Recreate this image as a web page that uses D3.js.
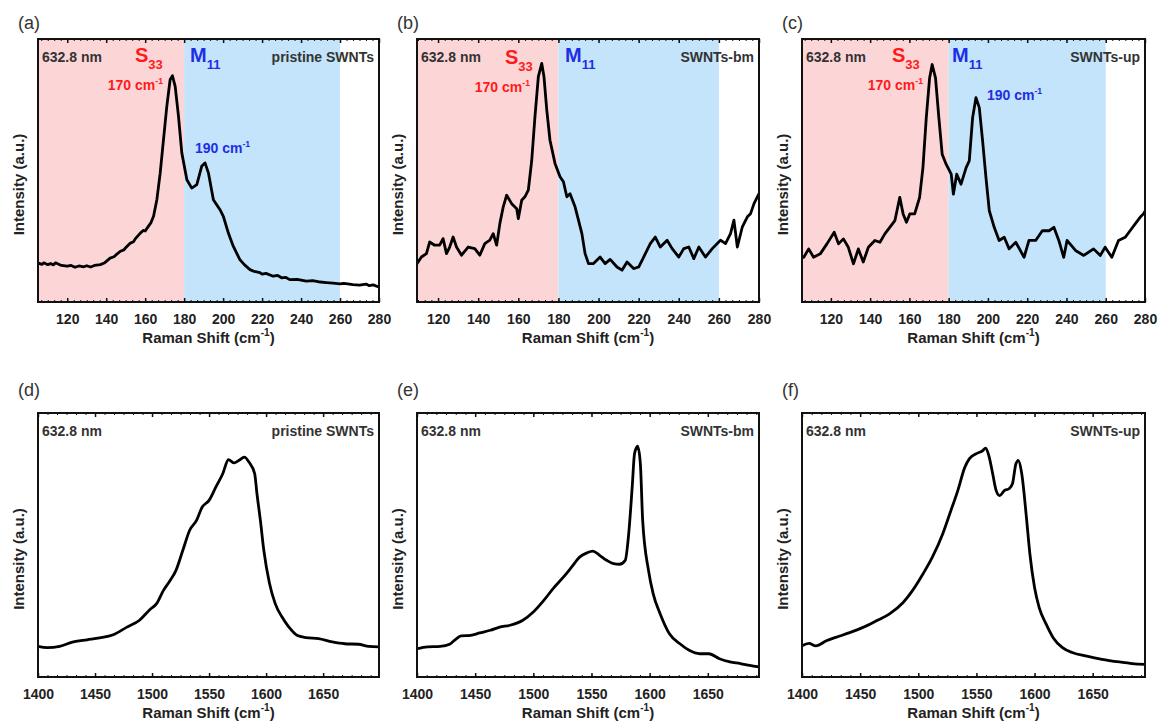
<!DOCTYPE html>
<html>
<head>
<meta charset="utf-8">
<script src="https://cdn.jsdelivr.net/npm/d3@7"></script>
<style>
  html, body { margin: 0; padding: 0; background: #fff; }
  svg { display: block; font-family: "Liberation Sans", Arial, sans-serif; }
  .tick-label { font-size: 14px; font-weight: bold; fill: #222; }
  .axis-title { font-size: 15px; font-weight: bold; fill: #222; }
  .panel-tag { font-size: 18px; fill: #333; }
  .note { font-size: 14px; font-weight: bold; fill: #333; }
</style>
</head>
<body>
<div id="chart"></div>
<script>
// RBM region spectra (Raman shift cm-1, intensity a.u. 0-100)
const rbmPristine = [
  [105.2, 14.8], [107, 14.3], [108, 14.9], [110, 14.2], [111.5, 14.6], [113, 14.1], [114, 14.9],
  [117, 13.9], [120, 13.6], [122, 13.9], [124, 13.2], [126, 13.7], [128.5, 13.4], [130, 13.8],
  [132, 13.3], [134, 13.9], [137, 14.2], [139, 14.8], [142, 16.7], [144, 17.2], [145, 17.9],
  [147.3, 19.3], [149, 19.8], [150, 20.6], [152.4, 22.4], [154, 22.9], [155, 24.1], [157.5, 26.2],
  [159, 27.2], [160, 27.0], [161, 28.1], [163, 30.2], [164.3, 32.6], [166, 38.9],
  [167.7, 49], [169.4, 61.7], [171.1, 74.4], [172.8, 84.5], [174, 86], [175.4, 82], [177.1, 70.6],
  [178.8, 56.7], [181.4, 46.5], [183.9, 43.3], [186.5, 44.6], [189, 51.6], [190.7, 52.9],
  [192.5, 49], [195, 38.9], [198.4, 35.1], [200.1, 32.6], [202.7, 26.2], [205.2, 21.2],
  [208.6, 16.1], [211, 14.1], [213.8, 12.3], [216, 11.6], [218.9, 11.2], [220, 10.6], [222, 10.9],
  [225.7, 9.8], [228, 10.1], [230, 9.2], [232, 9.4], [234.2, 8.5], [238, 8.6], [242.7, 7.9],
  [246, 8.1], [250, 7.6], [253, 7.4], [256.4, 7.2], [260, 6.9], [262, 7.1], [266.6, 6.6],
  [270, 6.4], [273.4, 6.8], [275, 6.2], [277, 6.5], [279.9, 5.7]
];

const rbmBallMilled = [
  [109.5, 14.6], [111.7, 17.1], [114.2, 18.4], [115.8, 22.8], [118.3, 21.6], [120.8, 21.6],
  [122.5, 24.1], [124.2, 18.4], [125.8, 20.9], [127.5, 24.7], [129.2, 20.9], [131.7, 17.8],
  [135, 20.9], [138.3, 20.3], [140.8, 17.8], [143.3, 22.2], [145.8, 23.5], [147.5, 26],
  [149.2, 21.6], [150.8, 29.8], [152.5, 36.2], [154.2, 40.6], [156.7, 37.4], [159.2, 35.5],
  [160, 31.7], [161.7, 38.7], [163.3, 40], [165, 42.5], [166.7, 53.9], [168.3, 70.4],
  [170, 85.7], [171.7, 90.7], [172.8, 85.7], [174.2, 73], [175.8, 61.5], [178.3, 52.7],
  [180.8, 47.6], [182.5, 45.7], [184.2, 40], [185.8, 41.2], [188.3, 36.2], [190, 31.1],
  [191.7, 26], [193.3, 18.4], [195, 14.6], [197.5, 14.6], [200.8, 17.1], [203.3, 14.6],
  [205.8, 16.2], [209.2, 13.3], [211.7, 12.1], [214.2, 15.2], [217.5, 12.7], [220, 13.3],
  [222.5, 17.1], [225.8, 22.2], [228.3, 24.7], [230.8, 20.9], [234.2, 23.5], [236.7, 20.3],
  [240, 17.1], [242.5, 20.3], [245, 20.9], [247.5, 16.5], [250, 20.9], [253.3, 17.1],
  [256.7, 20.3], [260.8, 23.5], [263.3, 22.2], [265.8, 26], [267.5, 31.1], [269.2, 20.9],
  [271.7, 28.6], [274.2, 32.4], [275.8, 33.6], [277.5, 37.4], [280, 41.2]
];

const rbmUltrasonic = [
  [105.3, 17], [106.2, 17], [108.7, 20.2], [111.2, 17], [114.6, 18.3], [118, 22.1], [121.7, 26.5],
  [123.9, 22.1], [126.4, 24], [128.9, 20.8], [131.5, 14.5], [134, 20.2], [136.5, 15.2],
  [139.1, 20.8], [142.4, 23.4], [145, 22.7], [147.5, 25.9], [150, 28.4], [152.6, 30.9],
  [155.1, 39.8], [156.8, 33.5], [158.5, 30.3], [160.2, 33.5], [162.7, 33.5], [165.2, 39.8],
  [166.9, 51.1], [168.6, 70.1], [170.3, 85.2], [171.6, 90.3], [173.3, 85.2], [175, 70.1],
  [176.7, 56.2], [178.7, 52.4], [181.3, 48.6], [182.4, 41], [184.1, 48.6], [186.3, 44.8],
  [188.9, 51.1], [190.5, 53.7], [192.2, 70.1], [193.9, 77.7], [195.6, 73.9], [197.3, 61.2],
  [199, 47.3], [200.7, 34.7], [203.2, 28.4], [205.7, 23.4], [208.3, 24.6], [210.8, 20.2],
  [214.2, 22.7], [218.4, 17], [220.9, 23.4], [224.3, 23.4], [227.7, 27.1], [231.1, 27.1],
  [233.6, 28.4], [236.1, 23.4], [238.6, 17], [240.3, 23.4], [244.6, 19.6], [248.8, 17.7],
  [253.8, 20.2], [257.2, 17.7], [259.7, 20.8], [263.1, 17], [266.5, 23.4], [269.9, 24.6],
  [272.4, 27.1], [275, 29.7], [277.5, 32.2], [279.2, 33.5], [280, 34.5]
];

// G band region spectra
const gPristine = [
  [1400, 11.6], [1408, 11.1], [1419, 11.6], [1431, 13.3], [1443, 14.1], [1454, 14.8],
  [1466, 16], [1478, 18.9], [1489, 21.5], [1498, 25.5], [1504, 27.8], [1510, 32.8],
  [1515, 36], [1521, 40.4], [1527, 48], [1533, 55.6], [1539, 59.3], [1544, 64.4],
  [1550, 66.9], [1556, 72], [1562, 77], [1567, 82.3], [1572, 81.1], [1576, 82],
  [1581, 83.3], [1585, 81.4], [1590, 77], [1592, 69.4], [1595, 59.3], [1598, 48],
  [1603, 35.4], [1608, 27.8], [1614, 22.7], [1620, 18.9], [1627, 15.8], [1635, 14.9],
  [1646, 14.5], [1658, 13.3], [1669, 12.6], [1681, 12.4], [1690, 11.6], [1699, 11.4]
];

const gBallMilled = [
  [1400, 10.7], [1409, 11.4], [1420, 11.6], [1428, 12.4], [1433, 14.2], [1438, 15.6], [1446, 15.8],
  [1454, 16.7], [1463, 17.7], [1471, 18.9], [1480, 19.6], [1491, 21.5], [1500, 24.6],
  [1509, 29], [1517, 33.5], [1526, 37.9], [1533, 41.7], [1540, 45.5], [1546, 47],
  [1551, 47.7], [1557, 46.1], [1563, 44.2], [1569, 42.9], [1574, 42.7], [1579, 44.2],
  [1582, 54.3], [1585, 72], [1587, 84.6], [1589.7, 87.4], [1592, 80.8], [1594, 59.3],
  [1599, 40.4], [1603, 31.6], [1609, 24], [1617, 16.4], [1626, 12.6], [1634, 10.1],
  [1643, 8.8], [1651, 8.8], [1660, 6.9], [1669, 5.7], [1678, 5.1], [1686, 4.4], [1694, 3.8]
];

const gUltrasonic = [
  [1400, 11.8], [1406, 12.7], [1412, 11.8], [1421, 13.7], [1429, 15], [1441, 16.8],
  [1452, 18.7], [1464, 21.3], [1475, 23.8], [1487, 28.2], [1495, 32.7], [1504, 39],
  [1512, 45.3], [1521, 54.2], [1528, 63], [1534, 70.6], [1540, 79.4], [1544, 82.7],
  [1550, 84.6], [1555, 85.6], [1558, 86.7], [1561, 83.3], [1564, 77], [1567, 70.6],
  [1570, 68.7], [1574, 70.6], [1578, 71.3], [1581, 73.2], [1584, 80.8], [1586, 82],
  [1589, 77], [1593, 60.5], [1596, 46.6], [1600, 33.9], [1604, 26.3], [1610, 20],
  [1616, 14.9], [1624, 11.1], [1633, 9.2], [1644, 8], [1658, 6.7], [1673, 5.7],
  [1684, 5.1], [1695, 4.8]
];

const panelTags = ["(a)", "(b)", "(c)", "(d)", "(e)", "(f)"];
const sampleNames = ["pristine SWNTs", "SWNTs-bm", "SWNTs-up", "pristine SWNTs", "SWNTs-bm", "SWNTs-up"];
const rbmTicks = [120, 140, 160, 180, 200, 220, 240, 260, 280];
const gTicks = [1400, 1450, 1500, 1550, 1600, 1650];
const semiRange = [null, 180];   // S33 shading
const metalRange = [180, 260];   // M11 shading

const width = 1158;
const height = 723;

const svg = d3.select("#chart").append("svg")
  .attr("width", width)
  .attr("height", height);

const colLeft = [38, 417, 802];
const colWidth = [341, 342, 343];
const rowTop = [39, 413];
const rowHeight = [263, 264];

const panels = [
  { data: rbmPristine, domain: [105, 280], ticks: rbmTicks, step: 20, rbm: true },
  { data: rbmBallMilled, domain: [109.5, 280], ticks: rbmTicks, step: 20, rbm: true },
  { data: rbmUltrasonic, domain: [105.3, 280], ticks: rbmTicks, step: 20, rbm: true },
  { data: gPristine, domain: [1400, 1699], ticks: gTicks, step: 50, rbm: false },
  { data: gBallMilled, domain: [1400, 1694], ticks: gTicks, step: 50, rbm: false },
  { data: gUltrasonic, domain: [1400, 1695], ticks: gTicks, step: 50, rbm: false },
];

const red = "#ff1a1a";
const blue = "#1f2ee6";

// label anchor points in pixels for the RBM panels
const s33Pos = [[135, 62], [505, 64], [892, 62]];
const m11Pos = [[190, 62], [565, 62], [952, 62]];
const label170 = [[163, 90], [530, 92], [923, 90]];
const label190 = [[195, 153], null, [987, 100]];

function supText(g, x, y, main, sup, anchor, color, size) {
  const t = g.append("text")
    .attr("x", x).attr("y", y)
    .attr("text-anchor", anchor)
    .attr("font-size", size)
    .attr("font-weight", "bold")
    .attr("fill", color);
  t.append("tspan").text(main);
  t.append("tspan").attr("font-size", size * 0.62).attr("dy", -size * 0.45).text(sup);
  return t;
}

panels.forEach((p, i) => {
  const col = i % 3;
  const row = Math.floor(i / 3);
  const left = colLeft[col];
  const top = rowTop[row];
  const w = colWidth[col];
  const h = rowHeight[row];

  const x = d3.scaleLinear().domain(p.domain).range([left, left + w]);
  const y = d3.scaleLinear().domain([0, 100]).range([top + h, top]);

  const g = svg.append("g");

  if (p.rbm) {
    g.append("rect")
      .attr("x", left).attr("y", top)
      .attr("width", x(semiRange[1]) - left).attr("height", h)
      .attr("fill", "#fcd6d7");
    g.append("rect")
      .attr("x", x(metalRange[0])).attr("y", top)
      .attr("width", x(metalRange[1]) - x(metalRange[0])).attr("height", h)
      .attr("fill", "#c3e4fa");
  }

  // spectrum
  const line = d3.line()
    .x((d) => x(d[0]))
    .y((d) => y(d[1]))
    .curve(p.rbm ? d3.curveLinear : d3.curveMonotoneX);

  g.append("path")
    .attr("d", line(p.data))
    .attr("fill", "none")
    .attr("stroke", "#000")
    .attr("stroke-width", 2.8)
    .attr("stroke-linejoin", "round");

  // minor ticks
  const minorStep = p.step / 6;
  const minors = d3.range(p.domain[0] - (p.domain[0] % minorStep), p.domain[1], minorStep)
    .filter((v) => v >= p.domain[0] && v <= p.domain[1]);

  g.append("g")
    .attr("transform", `translate(0,${top + h})`)
    .call(d3.axisBottom(x).tickValues(minors).tickSize(-2).tickFormat(""))
    .call((a) => a.select(".domain").remove());
  g.append("g")
    .attr("transform", `translate(0,${top})`)
    .call(d3.axisTop(x).tickValues(minors).tickSize(-2).tickFormat(""))
    .call((a) => a.select(".domain").remove());

  const bottomAxis = g.append("g")
    .attr("transform", `translate(0,${top + h})`)
    .call(d3.axisBottom(x).tickValues(p.ticks).tickSize(-4).tickPadding(12).tickFormat(d3.format("d")));
  bottomAxis.select(".domain").remove();
  bottomAxis.selectAll("line").attr("stroke-width", 1.5);
  bottomAxis.selectAll("text").attr("class", "tick-label").attr("font-size", null).attr("fill", null);

  g.append("g")
    .attr("transform", `translate(0,${top})`)
    .call(d3.axisTop(x).tickValues(p.ticks).tickSize(-4).tickFormat(""))
    .call((a) => a.select(".domain").remove())
    .selectAll("line").attr("stroke-width", 1.5);

  g.selectAll(".tick line").attr("stroke", "#111");

  // frame
  g.append("rect")
    .attr("x", left).attr("y", top)
    .attr("width", w).attr("height", h)
    .attr("fill", "none")
    .attr("stroke", "#111")
    .attr("stroke-width", 2);

  // axis titles
  const xt = g.append("text")
    .attr("class", "axis-title")
    .attr("x", left + w / 2)
    .attr("y", top + h + 41)
    .attr("text-anchor", "middle");
  xt.append("tspan").text(p.rbm || i === 3 ? "Raman Shift (cm" : "Raman  Shift (cm");
  xt.append("tspan").attr("font-size", 10).attr("dy", -7).text("-1");
  xt.append("tspan").attr("dy", 7).text(")");

  g.append("text")
    .attr("class", "axis-title")
    .attr("font-size", 14)
    .attr("transform", `translate(${left - 14},${top + h / 2 + 14}) rotate(-90)`)
    .attr("text-anchor", "middle")
    .text("Intensity (a.u.)");

  // panel tag
  g.append("text")
    .attr("class", "panel-tag")
    .attr("x", left - 20)
    .attr("y", row === 0 ? top - 10 : top - 17)
    .text(panelTags[i]);

  // notes
  g.append("text")
    .attr("class", "note")
    .attr("x", left + 4)
    .attr("y", top + 23)
    .text("632.8 nm");
  g.append("text")
    .attr("class", "note")
    .attr("x", left + w - 5)
    .attr("y", top + 23)
    .attr("text-anchor", "end")
    .text(sampleNames[i]);

  if (p.rbm) {
    const s = g.append("text")
      .attr("x", s33Pos[col][0]).attr("y", s33Pos[col][1])
      .attr("font-weight", "bold").attr("fill", red).attr("font-size", 20);
    s.append("tspan").text("S");
    s.append("tspan").attr("font-size", 13).attr("dy", 7).text("33");

    const m = g.append("text")
      .attr("x", m11Pos[col][0]).attr("y", m11Pos[col][1])
      .attr("font-weight", "bold").attr("fill", blue).attr("font-size", 20);
    m.append("tspan").text("M");
    m.append("tspan").attr("font-size", 13).attr("dy", 7).text("11");

    supText(g, label170[col][0], label170[col][1], "170 cm", "-1", "end", red, 14);
    if (label190[col]) {
      supText(g, label190[col][0], label190[col][1], "190 cm", "-1", "start", blue, 14);
    }
  }
});
</script>
</body>
</html>
